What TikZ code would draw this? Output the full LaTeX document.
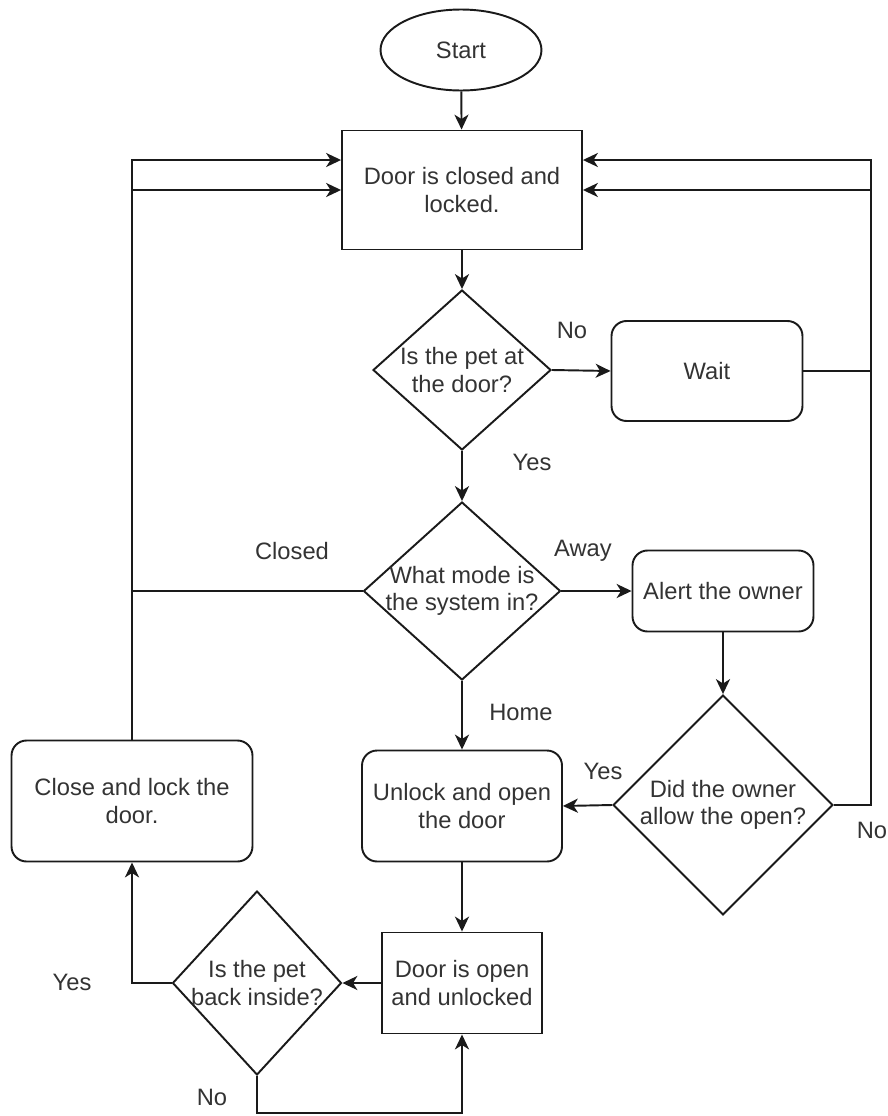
\documentclass[tikz,border=0pt]{standalone}
\usepackage{fontspec}
\setmainfont{Liberation Sans}
\usetikzlibrary{shapes.geometric,arrows.meta}
\definecolor{txt}{HTML}{333333}
\definecolor{ln}{HTML}{1A1A1A}
\tikzset{
  base/.style={draw=ln, line width=1.1pt, text=txt, font=\fontsize{13.5}{15.5}\selectfont, align=center, inner sep=2pt},
  sqbox/.style={base, rectangle},
  rbox/.style={base, rectangle, rounded corners=0.3cm},
  dia/.style={base, diamond, inner sep=0pt},
  lbl/.style={text=txt, font=\fontsize{13.5}{15.5}\selectfont, align=center, inner sep=1pt},
  flow/.style={draw=ln, line width=1.1pt, -{Stealth[length=8.5pt,width=8pt,inset=2.5pt]}},
  plain/.style={draw=ln, line width=1.1pt}
}
\begin{document}
\begin{tikzpicture}[x=0.02cm,y=-0.02cm]
\useasboundingbox (0,0) rectangle (888,1116);
% nodes
\node[base, ellipse, minimum width=3.22cm, minimum height=1.62cm] (start) at (461,50) {Start};
\node[sqbox, minimum width=4.8cm, minimum height=2.38cm] (door) at (462,190) {Door is closed and\\locked.};
\node[dia, minimum width=3.56cm, minimum height=3.2cm, label={[lbl]center:Is the pet at\\the door?}] (pet) at (462,370) {};
\node[rbox, minimum width=3.82cm, minimum height=2.0cm] (wait) at (707,371) {Wait};
\node[dia, minimum width=3.94cm, minimum height=3.56cm, label={[lbl]center:What mode is\\the system in?}] (mode) at (462,591) {};
\node[rbox, minimum width=3.62cm, minimum height=1.62cm] (alert) at (723,591) {Alert the owner};
\node[dia, minimum width=4.4cm, minimum height=4.4cm, label={[lbl]center:Did the owner\\allow the open?}] (owner) at (723,805) {};
\node[rbox, minimum width=4.82cm, minimum height=2.42cm] (close) at (132,801) {Close and lock the\\door.};
\node[rbox, minimum width=4.0cm, minimum height=2.22cm] (unlock) at (462,806) {Unlock and open\\the door};
\node[dia, minimum width=3.38cm, minimum height=3.68cm, label={[lbl]center:Is the pet\\back inside?}] (back) at (257,983) {};
\node[sqbox, minimum width=3.2cm, minimum height=2.02cm] (open) at (462,983) {Door is open\\and unlocked};
% helper coordinates
\coordinate (rx) at (871,0);
\coordinate (lx) at (132,0);
\coordinate (loop) at (0,1113);
\coordinate (dR) at ([yshift=0.6cm]door.east);
\coordinate (dL) at ([yshift=0.6cm]door.west);
% connectors
\draw[flow] (start) -- (door);
\draw[flow] (door) -- (pet);
\draw[flow] (pet.east) -- (wait.west);
\draw[flow] (pet.south) -- (mode.north);
\draw[flow] (mode.east) -- (alert.west);
\draw[flow] (mode.south) -- (unlock.north);
\draw[flow] (alert.south) -- (owner.north);
\draw[flow] (owner.west) -- (unlock.east);
\draw[flow] (unlock.south) -- (open.north);
\draw[flow] (open.west) -- (back.east);
\draw[flow] (back.west) -| (close.south);
\draw[flow] (back.south) |- (loop -| back.south) -| (open.south);
\draw[flow] (close.north) |- (dL);
\draw[flow] (mode.west) -| (lx |- door.west) -- (door.west);
\draw[flow] (wait.east) -| (rx |- door.east) -- (door.east);
\draw[flow] (owner.east) -| (rx |- dR) -- (dR);
% labels
\node[lbl] (lno1) at (572,330) {No};
\node[lbl] (lyes1) at (532,462) {Yes};
\node[lbl] (lclosed) at (292,551) {Closed};
\node[lbl] (laway) at (583,551) {Away};
\node[lbl] (lhome) at (521,712) {Home};
\node[lbl] (lyes2) at (603,771) {Yes};
\node[lbl] (lno2) at (872,830) {No};
\node[lbl] (lyes3) at (72,982) {Yes};
\node[lbl] (lno3) at (212,1097) {No};
\end{tikzpicture}
\end{document}
